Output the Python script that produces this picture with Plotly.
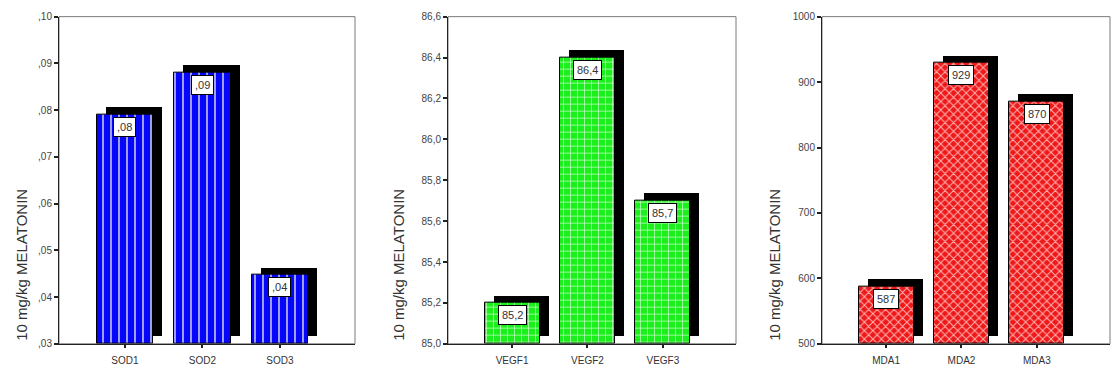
import plotly.graph_objects as go

# ---- data ----
sod_cats = ["SOD1", "SOD2", "SOD3"]
sod_vals = [0.079, 0.088, 0.0447]
sod_labels = [",08", ",09", ",04"]
sod_ticks = [0.03, 0.04, 0.05, 0.06, 0.07, 0.08, 0.09, 0.10]
sod_ticktext = [",03", ",04", ",05", ",06", ",07", ",08", ",09", ",10"]

vegf_cats = ["VEGF1", "VEGF2", "VEGF3"]
vegf_vals = [85.2, 86.4, 85.7]
vegf_labels = ["85,2", "86,4", "85,7"]
vegf_ticks = [85.0, 85.2, 85.4, 85.6, 85.8, 86.0, 86.2, 86.4, 86.6]
vegf_ticktext = ["85,0", "85,2", "85,4", "85,6", "85,8", "86,0", "86,2", "86,4", "86,6"]

mda_cats = ["MDA1", "MDA2", "MDA3"]
mda_vals = [587, 929, 870]
mda_labels = ["587", "929", "870"]
mda_ticks = [500, 600, 700, 800, 900, 1000]
mda_ticktext = ["500", "600", "700", "800", "900", "1000"]

y_title = "10 mg/kg MELATONIN"

# ---- layout geometry ----
W, H = 1114, 374
plot_top, plot_bot = 11, 349
panels = [
    dict(cats=sod_cats, vals=sod_vals, labels=sod_labels, ticks=sod_ticks, ticktext=sod_ticktext,
         yrange=[0.03, 0.10], x0=59, x1=355, color="#0606f8", fg="#c4c4ff", shape="|", psize=8, sol=0.2, title_x=22),
    dict(cats=vegf_cats, vals=vegf_vals, labels=vegf_labels, ticks=vegf_ticks, ticktext=vegf_ticktext,
         yrange=[85.0, 86.6], x0=448, x1=736, color="#1cf01c", fg="#d8ffd8", shape="+", psize=7, sol=0.18, title_x=399),
    dict(cats=mda_cats, vals=mda_vals, labels=mda_labels, ticks=mda_ticks, ticktext=mda_ticktext,
         yrange=[500, 1000], x0=822, x1=1110, color="#ee1818", fg="#ffb4b4", shape="x", psize=6, sol=0.3, title_x=775),
]
xrange_ = [-0.85, 2.97]
bar_w = 0.73
shadow_dx_px, shadow_dy_px = 9, 8

fig = go.Figure()
annotations = []
shapes = []
font_family = "Liberation Sans, Arial, sans-serif"

for k, p in enumerate(panels, start=1):
    xa = "x" if k == 1 else f"x{k}"
    ya = "y" if k == 1 else f"y{k}"
    xs = list(range(len(p["cats"])))
    ymin, ymax = p["yrange"]
    px_per_x = (p["x1"] - p["x0"]) / (xrange_[1] - xrange_[0])
    px_per_y = (plot_bot - plot_top) / (ymax - ymin)
    dx = shadow_dx_px / px_per_x
    dy = shadow_dy_px / px_per_y

    # shadow
    fig.add_trace(go.Bar(
        x=[x + dx for x in xs], y=[v - ymin for v in p["vals"]], base=[ymin + dy] * len(xs),
        width=bar_w, marker=dict(color="black", line=dict(width=0)),
        xaxis=xa, yaxis=ya, showlegend=False, hoverinfo="skip"))
    # main bar
    fig.add_trace(go.Bar(
        x=xs, y=[v - ymin for v in p["vals"]], base=[ymin] * len(xs), width=bar_w,
        marker=dict(color=p["color"], line=dict(color="black", width=1),
                    pattern=dict(shape=p["shape"], fillmode="replace", fgcolor=p["fg"],
                                 bgcolor=p["color"], size=p["psize"], solidity=p["sol"])),
        xaxis=xa, yaxis=ya, showlegend=False, name=""))

    for x, v, lab in zip(xs, p["vals"], p["labels"]):
        annotations.append(dict(
            x=x, y=v, xref=xa, yref=ya, text=lab, showarrow=False,
            yanchor="top", xanchor="center", yshift=-2,
            bgcolor="white", bordercolor="black", borderwidth=1, borderpad=3,
            font=dict(size=11, color="#333333", family=font_family)))

    annotations.append(dict(
        x=p["title_x"] / W, y=(H - 348) / H, xref="paper", yref="paper",
        text=y_title, textangle=-90, showarrow=False,
        xanchor="center", yanchor="bottom",
        font=dict(size=15, color="#333333", family=font_family)))

    shapes.append(dict(type="rect", xref=f"{xa} domain", yref=f"{ya} domain",
                       x0=0, x1=1, y0=0, y1=1, line=dict(color="#7a7a7a", width=1),
                       layer="below"))

    key_x = "xaxis" if k == 1 else f"xaxis{k}"
    key_y = "yaxis" if k == 1 else f"yaxis{k}"
    fig.update_layout(**{
        key_x: dict(domain=[p["x0"] / W, p["x1"] / W], range=xrange_, anchor=ya,
                    tickmode="array", tickvals=xs, ticktext=p["cats"],
                    showline=True, linecolor="#222222", linewidth=1,
                    ticks="outside", ticklen=3, tickwidth=2, tickcolor="#222222",
                    ticklabelstandoff=4,
                    showgrid=False, zeroline=False,
                    tickfont=dict(size=10, color="#333333", family=font_family), fixedrange=True),
        key_y: dict(domain=[(H - plot_bot) / H, (H - plot_top) / H], range=p["yrange"], anchor=xa,
                    tickmode="array", tickvals=p["ticks"], ticktext=p["ticktext"],
                    showline=True, linecolor="#222222", linewidth=1,
                    ticks="outside", ticklen=4, tickwidth=2, tickcolor="#222222",
                    showgrid=False, zeroline=False,
                    tickfont=dict(size=10, color="#444444", family=font_family), fixedrange=True),
    })

fig.update_layout(
    width=W, height=H, margin=dict(l=0, r=0, t=0, b=0),
    paper_bgcolor="white", plot_bgcolor="white",
    barmode="overlay", bargap=0,
    annotations=annotations, shapes=shapes,
    font=dict(family=font_family),
)

fig.write_html("out.html", config={"displayModeBar": False})
